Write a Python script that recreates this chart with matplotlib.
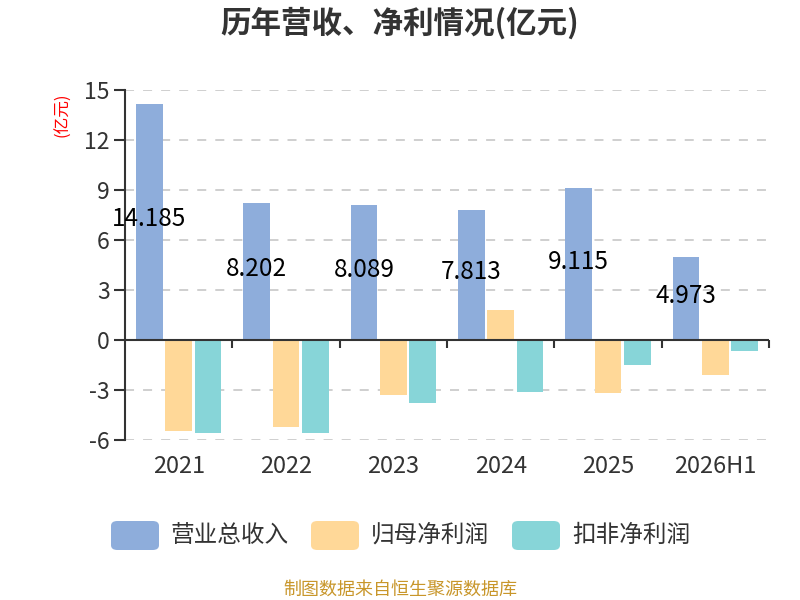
import numpy as np
import matplotlib
matplotlib.use('Agg')
import matplotlib.pyplot as plt
from matplotlib.patches import FancyBboxPatch

plt.rcParams['font.family'] = ['Noto Sans CJK SC', 'DejaVu Sans']
plt.rcParams['axes.unicode_minus'] = False

years = ['2021', '2022', '2023', '2024', '2025', '2026H1']
revenue = [14.185, 8.202, 8.089, 7.813, 9.115, 4.973]
net_profit = [-5.44, -5.2, -3.3, 1.8, -3.2, -2.1]
deducted_profit = [-5.6, -5.6, -3.76, -3.1, -1.48, -0.64]
series_names = ['营业总收入', '归母净利润', '扣非净利润']
colors = ['#8eaddb', '#ffd898', '#87d5d8']
yticks = [-6, -3, 0, 3, 6, 9, 12, 15]

fig = plt.figure(figsize=(8, 6), dpi=100)
ax = fig.add_axes([125 / 800, 1 - 440 / 600, (769 - 125) / 800, 350 / 600])

x = np.arange(len(years))
w = 0.249
step = 0.273
for k, (vals, c) in enumerate(zip([revenue, net_profit, deducted_profit], colors)):
    ax.bar(x + (k - 1) * step, vals, width=w, color=c, zorder=3)

# value labels on the revenue bars
for xi, v in zip(x, revenue):
    ax.text(xi - step, v / 2 + 0.15, '{:.3f}'.format(v), ha='center', va='center',
            fontsize=17.5, color='black', zorder=5)

ax.set_xlim(-0.5, len(years) - 0.5)
ax.set_ylim(-6, 15)
ax.set_yticks(yticks)
ax.set_yticklabels([str(t) for t in yticks], fontsize=16.5, color='#333333')
ax.set_xticks(x)
ax.set_xticklabels(years, fontsize=17, color='#333333')
ax.tick_params(axis='x', length=0, pad=11)
ax.tick_params(axis='y', length=8, width=1.5, color='#333333', pad=3)

for s in ['top', 'right', 'bottom']:
    ax.spines[s].set_visible(False)
ax.spines['left'].set_color('#333333')
ax.spines['left'].set_linewidth(1.5)

ax.grid(axis='y', linestyle=(0, (5, 5)), color='#cccccc', linewidth=1.3, zorder=0)
ax.axhline(0, color='#333333', linewidth=1.5, zorder=4)
bounds = np.arange(len(years) + 1) - 0.5
ax.vlines(bounds[1:], -0.45, 0, color='#333333', linewidth=1.5, zorder=4, clip_on=False)

ax.text(-0.096, 0.929, '(亿元)', transform=ax.transAxes, rotation=90, color='red',
        fontsize=12, ha='center', va='center')

fig.text(0.5, 1 - 23 / 600, '历年营收、净利情况(亿元)', ha='center', va='center',
         fontsize=22, fontweight='bold', color='#333333')

# legend
leg_x = [111, 311, 512]
for lx, name, c in zip(leg_x, series_names, colors):
    box = FancyBboxPatch((lx / 800, 1 - 550 / 600), 48 / 800, 29 / 600,
                         boxstyle='round,pad=0,rounding_size=0.008',
                         transform=fig.transFigure, facecolor=c, edgecolor='none')
    fig.patches.append(box)
    fig.text((lx + 60) / 800, 1 - 535 / 600, name, ha='left', va='center',
             fontsize=17, color='#333333')

fig.text(0.5, 1 - 590 / 600, '制图数据来自恒生聚源数据库', ha='center', va='center',
         fontsize=13, color='#c8962a')

fig.savefig('out.png', dpi=100)
